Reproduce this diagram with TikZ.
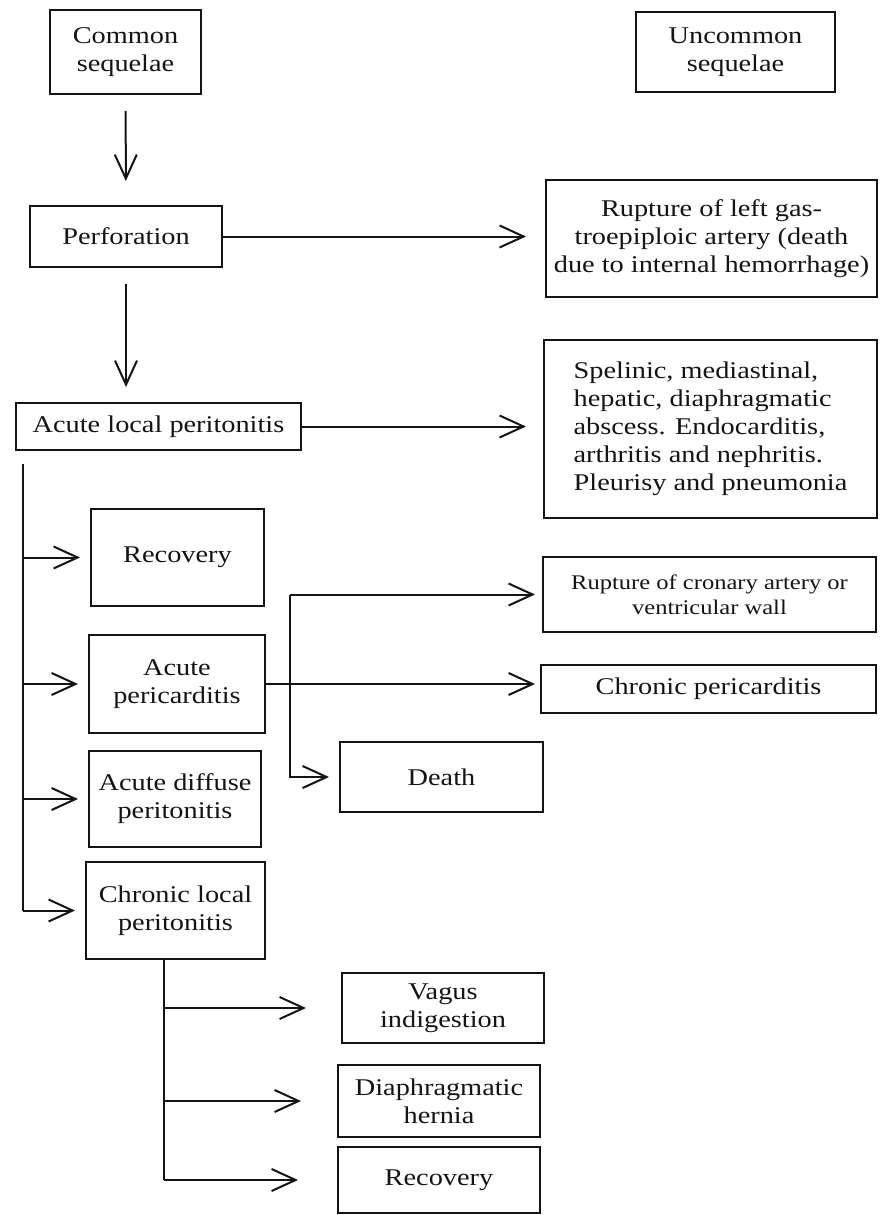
\documentclass[tikz,border=0pt]{standalone}
\usepackage{fontspec}
\setmainfont{Liberation Serif}[FakeStretch=1.18]
\usepackage{xcolor}
\usepackage{tikz}
\usetikzlibrary{arrows.meta, positioning, calc}
\definecolor{inkblack}{RGB}{20, 20, 20}

\tikzset{
  seqbox/.style={draw=inkblack, line width=1pt, align=center, inner sep=2pt,
                 text=inkblack, font=\fontsize{12}{14}\selectfont},
  seqarrow/.style={draw=inkblack, line width=1pt,
                   -{Straight Barb[length=12pt, width=11pt]}},
  seqline/.style={draw=inkblack, line width=1pt}
}

\begin{document}
\begin{tikzpicture}[x=0.5pt, y=-0.5pt]
    \useasboundingbox (0,0) rectangle (880,1215);

    \node[seqbox, minimum width=75.5pt, minimum height=42pt] (common) at (125.5,52) {Common\\sequelae};
    \node[seqbox, minimum width=99.5pt, minimum height=40pt] (uncommon) at (735.5,52) {Uncommon\\sequelae};

    \node[seqbox, minimum width=96pt, minimum height=30.5pt] (perf) at (126,236.5) {Perforation};
    \node[seqbox, minimum width=165.5pt, minimum height=58.5pt] (rupt) at (711.5,238.5) {
        Rupture of left gas-\\troepiploic artery (death\\due to internal hemorrhage)};

    \node[seqbox, minimum width=142.5pt, minimum height=23.5pt] (alp) at (158.5,426.5) {Acute local peritonitis};
    \node[seqbox, align=left, minimum width=166.5pt, minimum height=89pt] (absc) at (710.5,429) {
        Spelinic, mediastinal,\\hepatic, diaphragmatic\\abscess. Endocarditis,\\
        arthritis and nephritis.\\Pleurisy and pneumonia};

    \node[seqbox, minimum width=86.5pt, minimum height=48.5pt] (rec1) at (177.5,557.5) {Recovery};
    \node[seqbox, minimum width=88pt, minimum height=49pt] (apc) at (177,684) {Acute\\pericarditis};
    \node[seqbox, minimum width=86pt, minimum height=48pt] (adp) at (175,799) {Acute diffuse\\peritonitis};
    \node[seqbox, minimum width=89.5pt, minimum height=48.5pt] (clp) at (175.5,910.5) {Chronic local\\peritonitis};

    \node[seqbox, font=\fontsize{10.4}{12.5}\selectfont, minimum width=166.5pt, minimum height=37.5pt] (crup) at (709.5,594.5) {
        Rupture of cronary artery or\\ventricular wall};
    \node[seqbox, minimum width=167.5pt, minimum height=24pt] (cpc) at (708.5,689) {Chronic pericarditis};
    \node[seqbox, minimum width=101.5pt, minimum height=35pt] (death) at (441.5,777) {Death};

    \node[seqbox, minimum width=101pt, minimum height=35pt] (vagus) at (443,1008) {Vagus\\indigestion};
    \node[seqbox, minimum width=101pt, minimum height=36pt] (hern) at (439,1101) {Diaphragmatic\\hernia};
    \node[seqbox, minimum width=101pt, minimum height=33pt] (rec2) at (439,1180) {Recovery};

    \draw[seqarrow, shorten <=8pt, shorten >=12pt] (common) -- (perf);
    \draw[seqarrow, shorten >=9.5pt] (perf.east) -- (perf.east -| rupt.west);
    \draw[seqarrow, shorten <=8pt, shorten >=7.5pt] (perf.south) -- (perf.south |- alp.north);
    \draw[seqarrow, shorten >=8.5pt] (alp.east) -- (alp.east -| absc.west);

    \coordinate (lbus) at ($(alp.south west)+(8,13)$);
    \draw[seqline] (lbus) -- (lbus |- clp.west);
    \foreach \n in {rec1, apc, adp, clp}
        \draw[seqarrow, shorten >=5pt] (lbus |- \n.west) -- (\n.west);

    \draw[seqarrow, shorten >=2.5pt] (apc.east) -- (apc.east -| cpc.west);
    \coordinate (pbus) at ($(apc.east |- crup.west)+(24,0)$);
    \draw[seqarrow, shorten >=3.5pt] (pbus) -- (crup.west);
    \draw[seqarrow, shorten >=5pt] (pbus) |- (death.west);

    \coordinate (cbus) at ($(clp.south)+(-11.5,0)$);
    \draw[seqline] (cbus) -- (cbus |- rec2.west);
    \foreach \n/\gap in {vagus/17.5pt, hern/18pt, rec2/19.5pt}
        \draw[seqarrow, shorten >=\gap] (cbus |- \n.west) -- (\n.west);
\end{tikzpicture}
\end{document}
